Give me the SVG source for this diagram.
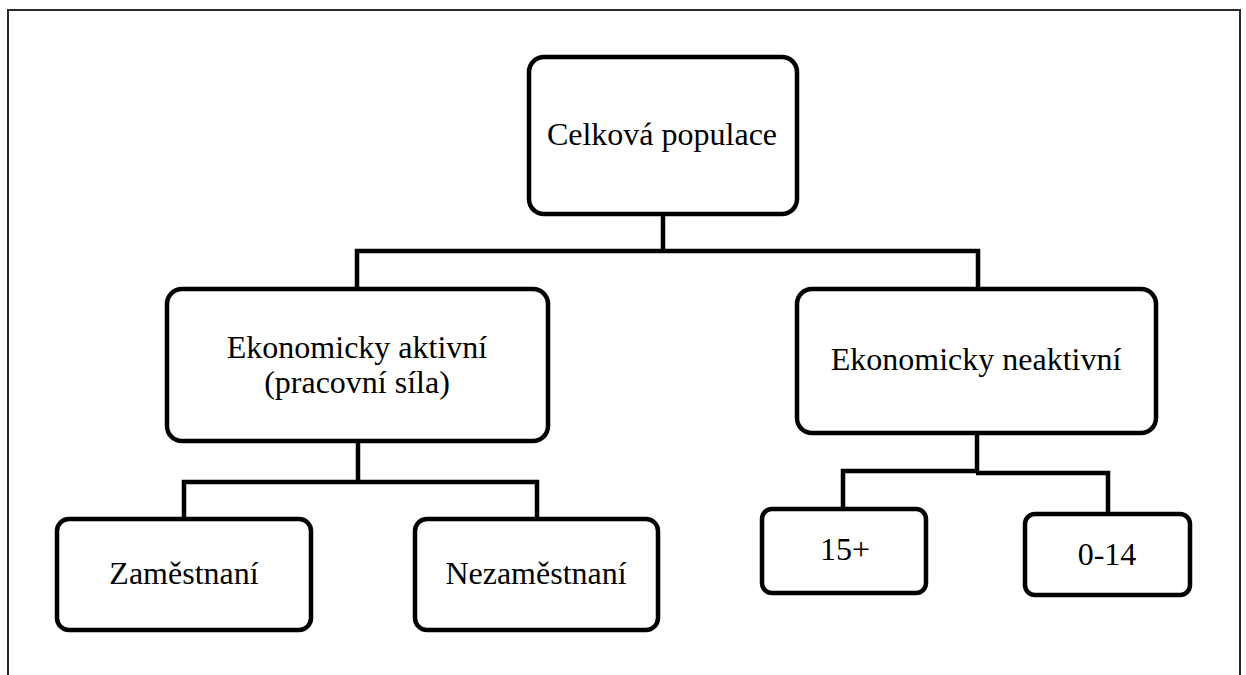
<svg xmlns="http://www.w3.org/2000/svg" width="1246" height="675" viewBox="0 0 1246 675">
<style>
.box{fill:#fff;stroke:#000;stroke-width:4.5}
.con{fill:none;stroke:#000;stroke-width:4.5;stroke-linejoin:miter}
.frame{fill:none;stroke:#2a2a2a;stroke-width:2}
.lbl{font-family:"Liberation Serif","Times New Roman",serif;font-size:32px;fill:#000;text-anchor:middle}
</style>
<rect width="1246" height="675" fill="#fff"/>
<path class="frame" d="M8,680 V10 H1240 V680"/>
<g id="connectors">
<path class="con" d="M663,214 V251"/>
<path class="con" d="M357,289 V251 H978 V289"/>
<path class="con" d="M358,441 V482"/>
<path class="con" d="M184,519 V482 H537 V519"/>
<path class="con" d="M977,433 V472"/>
<path class="con" d="M843,509 V471 H978"/>
<path class="con" d="M976,473 H1108 V514"/>
</g>
<g id="celkova">
<rect class="box" x="529" y="57" width="268" height="157" rx="15"/>
<text class="lbl" x="662" y="145">Celková populace</text>
</g>
<g id="aktivni">
<rect class="box" x="167" y="289" width="381" height="152" rx="15"/>
<text class="lbl" x="357" y="358">Ekonomicky aktivní</text>
<text class="lbl" x="357" y="393">(pracovní síla)</text>
</g>
<g id="neaktivni">
<rect class="box" x="797" y="289" width="359" height="144" rx="15"/>
<text class="lbl" x="976" y="370">Ekonomicky neaktivní</text>
</g>
<g id="zamestnani">
<rect class="box" x="57" y="519" width="254" height="111" rx="12"/>
<text class="lbl" x="184" y="584">Zaměstnaní</text>
</g>
<g id="nezamestnani">
<rect class="box" x="415" y="519" width="243" height="111" rx="12"/>
<text class="lbl" x="536" y="584">Nezaměstnaní</text>
</g>
<g id="n15plus">
<rect class="box" x="762" y="509" width="164" height="84" rx="10"/>
<text class="lbl" x="845" y="560">15+</text>
</g>
<g id="n0_14">
<rect class="box" x="1025" y="514" width="165" height="81" rx="10"/>
<text class="lbl" x="1107" y="565">0-14</text>
</g>
</svg>
